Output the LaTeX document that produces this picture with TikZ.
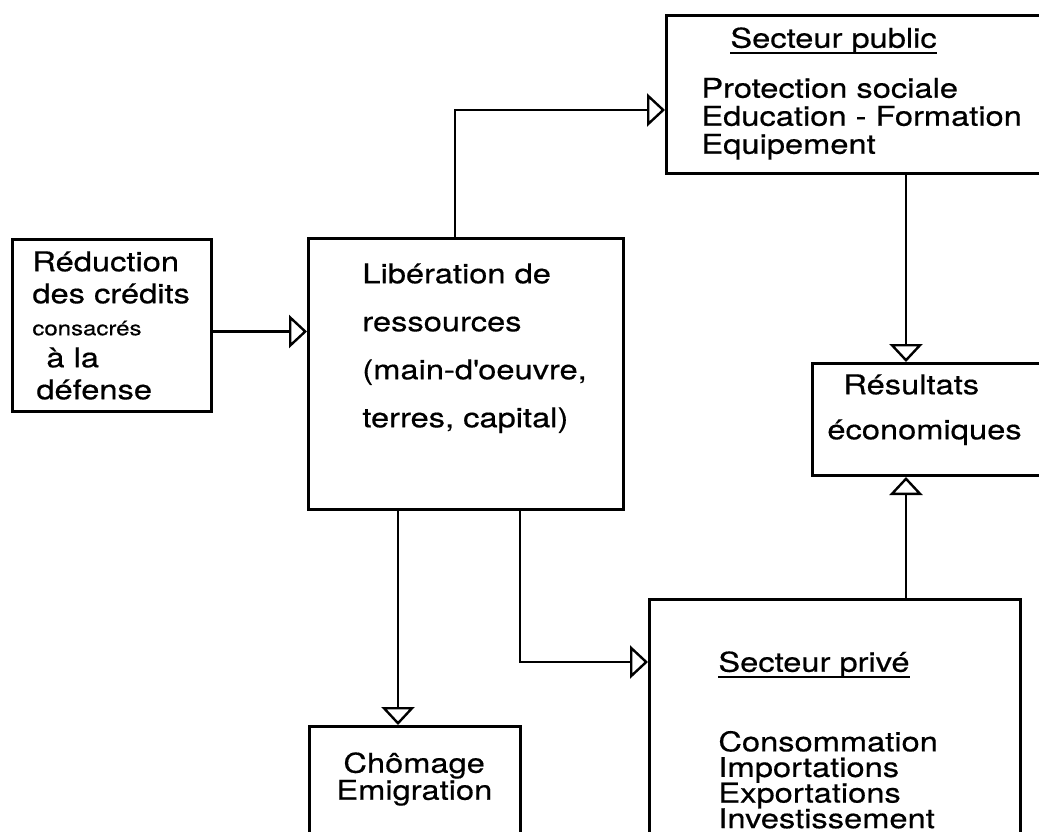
\documentclass[tikz,border=0pt]{standalone}
\usepackage{fontspec}
\setmainfont{TeX Gyre Heros}[FakeStretch=1.2, FakeBold=0.5]
\usetikzlibrary{arrows.meta,positioning,calc}
\lineskiplimit=-30pt
\newcommand\souligne[1]{\setbox0=\hbox{#1}\rlap{\vrule height -2.2pt depth 2.9pt width \wd0}#1}

\begin{document}
\begin{tikzpicture}[x=0.5pt, y=-0.5pt,
    block/.style={rectangle, draw, line width=1.5pt, inner sep=0pt, anchor=north west},
    txt/.style={anchor=north west, inner sep=0pt, align=left},
    arrow/.style={-{Triangle[open, length=9pt, width=16.5pt]}, line width=1.2pt}]

    \useasboundingbox (0,0) rectangle (1039,831);
    \clip (0,0) rectangle (1039,831);

    % boxes
    \node[block, minimum width=99.5pt, minimum height=86pt] (reduction) at (11,238) {};
    \node[block, minimum width=157.5pt, minimum height=135.5pt] (liberation) at (307,237) {};
    \node[block, minimum width=199.5pt, minimum height=79pt] (public) at (665,14) {};
    \node[block, minimum width=125pt, minimum height=56pt] (resultats) at (811,362) {};
    \node[block, minimum width=185.5pt, minimum height=131pt] (prive) at (648,598) {};
    \node[block, minimum width=105.5pt, minimum height=67.5pt] (chomage) at (308,725) {};

    % texts
    \node[txt, font=\fontsize{13.6}{16}\selectfont] (reduction-txt) at (32,251)
        {Réduction\\des crédits\\{\fontsize{10}{16}\selectfont consacrés}\\\hspace*{7pt}à la\\\hspace*{2pt}défense};
    \node[txt, font=\fontsize{13.6}{24}\selectfont] (liberation-txt) at (362,263)
        {Libération de\\ressources\\(main-d\textquotesingle oeuvre,\\terres, capital)};
    \node[txt, font=\fontsize{13.6}{14}\selectfont] (public-txt) at (701,27)
        {\hspace*{14.5pt}\souligne{Secteur public}\\[11pt]Protection sociale\\Education - Formation\\Equipement};
    \node[txt, font=\fontsize{13.6}{22.5}\selectfont] (resultats-txt) at (827,374)
        {\hspace*{8pt}Résultats\\économiques};
    \node[txt, font=\fontsize{13.6}{12.8}\selectfont] (prive-txt) at (718,651)
        {\souligne{Secteur privé}\\[27pt]Consommation\\Importations\\Exportations\\Investissement};
    \node[txt, font=\fontsize{13.6}{13.5}\selectfont] (chomage-txt) at (336,752)
        {\hspace*{3.5pt}Chômage\\Emigration};

    % connectors
    \coordinate (r-out) at ($(reduction.east)+(0,6)$);
    \draw[arrow] (r-out) -- (r-out -| liberation.west);

    \coordinate (l-up) at ($(liberation.north west)+(148,0)$);
    \coordinate (p-in) at ($(public.north west)+(0,96)$);
    \draw[arrow] (l-up) |- (p-in);

    \coordinate (p-down) at ($(public.south west)+(241,0)$);
    \draw[arrow] (p-down) -- (p-down |- resultats.north);

    \coordinate (v-up) at ($(prive.north west)+(258,0)$);
    \draw[arrow] (v-up) -- (v-up |- resultats.south);

    \coordinate (l-down) at ($(liberation.south west)+(91,0)$);
    \draw[arrow] (l-down) -- (l-down |- chomage.north);

    \coordinate (l-right) at ($(liberation.south west)+(213,0)$);
    \coordinate (v-in) at ($(prive.north west)+(0,64)$);
    \draw[arrow] (l-right) |- (v-in);

\end{tikzpicture}
\end{document}
